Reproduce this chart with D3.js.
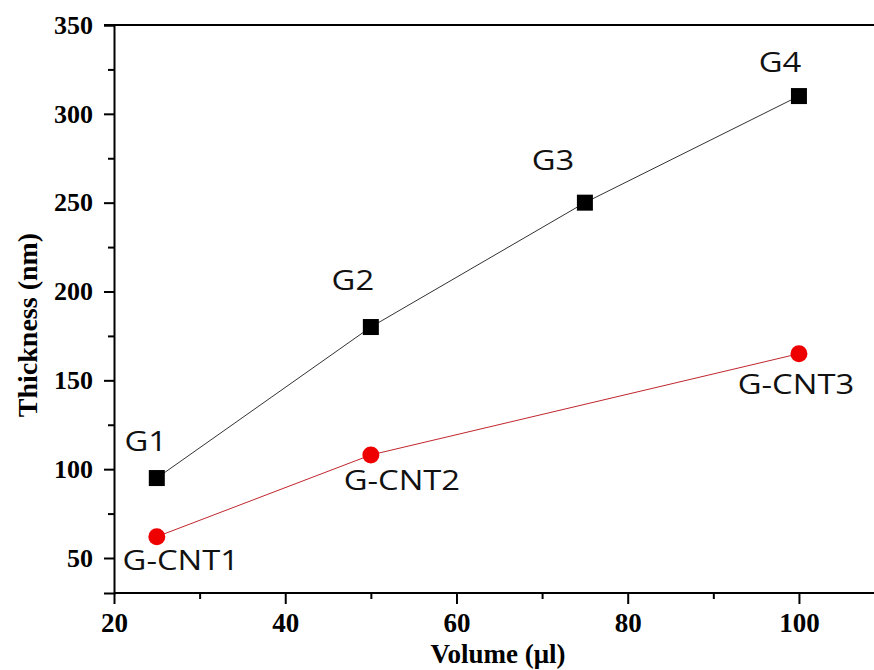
<!DOCTYPE html>
<html>
<head>
<meta charset="utf-8">
<script src="https://cdn.jsdelivr.net/npm/d3@7"></script>
<style>
  body { margin: 0; background: #fff; }
  .tick text { font-family: "Liberation Serif", "Times New Roman", serif; font-weight: bold; }
  .lbl { font-family: "Open Sans", sans-serif; fill: #111; }
</style>
</head>
<body>
<div id="chart"></div>
<script>
// data
var volume = [25, 50, 75, 100];
var gThickness = [95, 180, 250, 310];
var gLabels = ["G1", "G2", "G3", "G4"];
var cntVolume = [25, 50, 100];
var cntThickness = [62, 108, 165];
var cntLabels = ["G-CNT1", "G-CNT2", "G-CNT3"];
var xTicks = [20, 40, 60, 80, 100];
var xMinor = [30, 50, 70, 90];
var yTicks = [50, 100, 150, 200, 250, 300, 350];
var yMinor = [75, 125, 175, 225, 275, 325];

var width = 874, height = 670;
var margin = {top: 25, left: 114, bottom: 77, right: -2};

var svg = d3.select("#chart").append("svg")
  .attr("width", width).attr("height", height);

var x = d3.scaleLinear().domain([20, 109]).range([margin.left, width - margin.right]);
var y = d3.scaleLinear().domain([30.3, 350]).range([height - margin.bottom, margin.top]);

// top border
svg.append("line")
  .attr("x1", margin.left - 10).attr("x2", width + 5)
  .attr("y1", y(350)).attr("y2", y(350))
  .attr("stroke", "#000").attr("stroke-width", 2);

// axes
var xAxis = svg.append("g").attr("transform", "translate(0," + y.range()[0] + ")")
  .call(d3.axisBottom(x).tickValues(xTicks).tickSize(11).tickPadding(9).tickFormat(d3.format("d")));
var xAxisMinor = svg.append("g").attr("transform", "translate(0," + y.range()[0] + ")")
  .call(d3.axisBottom(x).tickValues(xMinor).tickSize(6).tickFormat(""));
var yAxis = svg.append("g").attr("transform", "translate(" + margin.left + ",0)")
  .call(d3.axisLeft(y).tickValues(yTicks).tickSize(10).tickPadding(11).tickFormat(d3.format("d")));
var yAxisMinor = svg.append("g").attr("transform", "translate(" + margin.left + ",0)")
  .call(d3.axisLeft(y).tickValues(yMinor).tickSize(6).tickFormat(""));

[xAxis, xAxisMinor, yAxis, yAxisMinor].forEach(function(a) {
  a.select(".domain").attr("stroke-width", 2);
  a.selectAll(".tick line").attr("stroke-width", 2);
});
xAxis.select(".domain").attr("d", "M" + x.range()[0] + ",0H" + (width + 5));
xAxisMinor.select(".domain").remove();
yAxisMinor.select(".domain").remove();
xAxis.selectAll(".tick text").attr("font-size", 27).attr("dy", "0.71em").attr("fill", "#000");
yAxis.selectAll(".tick text").attr("font-size", 26).attr("fill", "#000");

// axis titles
svg.append("text")
  .attr("x", 498).attr("y", 663)
  .attr("text-anchor", "middle")
  .style("font-family", "'Liberation Serif', serif").style("font-weight", "bold")
  .style("font-size", "27px")
  .text("Volume (μl)");

svg.append("text")
  .attr("transform", "translate(37,325) rotate(-90)")
  .attr("text-anchor", "middle")
  .style("font-family", "'Liberation Serif', serif").style("font-weight", "bold")
  .style("font-size", "28px")
  .text("Thickness (nm)");

// lines
var line = d3.line().x(function(d) { return x(d[0]); }).y(function(d) { return y(d[1]); });
var gPts = d3.zip(volume, gThickness);
var cntPts = d3.zip(cntVolume, cntThickness);

svg.append("path").datum(gPts).attr("d", line)
  .attr("fill", "none").attr("stroke", "#333").attr("stroke-width", 1);
svg.append("path").datum(cntPts).attr("d", line)
  .attr("fill", "none").attr("stroke", "#c0262d").attr("stroke-width", 1);

svg.selectAll("rect.g").data(gPts).enter().append("rect")
  .attr("class", "g")
  .attr("x", function(d) { return x(d[0]) - 8; })
  .attr("y", function(d) { return y(d[1]) - 8; })
  .attr("width", 16).attr("height", 16)
  .attr("fill", "#000");

svg.selectAll("circle.cnt").data(cntPts).enter().append("circle")
  .attr("class", "cnt")
  .attr("cx", function(d) { return x(d[0]); })
  .attr("cy", function(d) { return y(d[1]); })
  .attr("r", 8.5)
  .attr("fill", "#ee0000");

// point labels, offsets from the marker (px)
var gOffset = [[-11, -27], [-18, -37], [-32, -33], [-19, -24]];
var cntOffset = [[24, 33], [31, 35], [-3, 40]];

function label(pts, names, offs) {
  pts.forEach(function(d, i) {
    svg.append("text")
      .attr("class", "lbl")
      .attr("text-anchor", "middle")
      .attr("font-size", 28)
      .attr("transform", "translate(" + (x(d[0]) + offs[i][0]) + "," + (y(d[1]) + offs[i][1]) + ") scale(1.17,1)")
      .text(names[i]);
  });
}
label(gPts, gLabels, gOffset);
label(cntPts, cntLabels, cntOffset);
</script>
</body>
</html>
